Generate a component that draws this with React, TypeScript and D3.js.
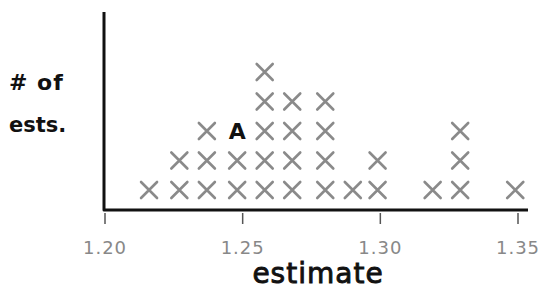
import { useEffect, useRef } from "react"
import * as d3 from "d3"

// estimates read off the hand-drawn axis, and how many Xs stack at each
const estimates = [1.216, 1.227, 1.237, 1.248, 1.258, 1.268, 1.28, 1.29, 1.299, 1.319, 1.329, 1.349]
const counts = [1, 2, 3, 2, 5, 4, 4, 1, 2, 1, 3, 1]
const tickValues = [1.2, 1.25, 1.3, 1.35]
const tickLabels = ["1.20", "1.25", "1.30", "1.35"]
// the labelled point "A"
const labelA = { estimate: 1.248, row: 3, text: "A" }

export default function App() {
  const svgRef = useRef<SVGSVGElement>(null)

  useEffect(() => {
    if (!svgRef.current) return
    const svg = d3.select(svgRef.current)
    svg.selectAll("*").remove()

    const width = 540
    const height = 290
    svg.attr("width", width).attr("height", height)

    const x = d3.scaleLinear().domain([1.2, 1.35]).range([105, 518])
    const y = d3.scaleLinear().domain([1, 5]).range([190, 72])

    const font = "'DejaVu Sans', sans-serif"

    // axes
    svg.append("path")
      .attr("d", `M104,12 L104,210 L528,210`)
      .attr("fill", "none")
      .attr("stroke", "#111")
      .attr("stroke-width", 3)
      .attr("stroke-linejoin", "round")

    // ticks
    const ticks = svg.append("g")
    ticks.selectAll("line")
      .data(tickValues)
      .enter()
      .append("line")
      .attr("x1", (d) => x(d))
      .attr("x2", (d) => x(d))
      .attr("y1", 213)
      .attr("y2", 224)
      .attr("stroke", "#555")
      .attr("stroke-width", 1.5)

    ticks.selectAll("text")
      .data(tickValues)
      .enter()
      .append("text")
      .attr("x", (d) => x(d))
      .attr("y", 254)
      .attr("text-anchor", "middle")
      .style("font-family", font)
      .style("font-size", "18px")
      .style("letter-spacing", "1px")
      .style("fill", "#888")
      .text((d, i) => tickLabels[i])

    // build the stacked points
    const points: { estimate: number; row: number }[] = []
    estimates.forEach((e, i) => {
      for (let r = 1; r <= counts[i]; r++) {
        if (e === labelA.estimate && r === labelA.row) continue
        points.push({ estimate: e, row: r })
      }
    })

    const s = 8
    const marks = svg.append("g")
      .attr("stroke", "#8a8a8a")
      .attr("stroke-width", 2.6)
      .attr("stroke-linecap", "round")
      .attr("fill", "none")

    marks.selectAll("path")
      .data(points)
      .enter()
      .append("path")
      .attr("d", (d) => {
        const cx = x(d.estimate)
        const cy = y(d.row)
        return `M${cx - s},${cy - s}L${cx + s},${cy + s}M${cx + s},${cy - s}L${cx - s},${cy + s}`
      })

    svg.append("text")
      .attr("x", x(labelA.estimate))
      .attr("y", y(labelA.row) + 8)
      .attr("text-anchor", "middle")
      .style("font-family", font)
      .style("font-size", "22px")
      .style("font-weight", "bold")
      .style("fill", "#111")
      .text(labelA.text)

    // y label
    svg.append("text")
      .attr("x", 9)
      .attr("y", 90)
      .style("font-family", font)
      .style("font-size", "22px")
      .style("font-weight", "bold")
      .style("letter-spacing", "1px")
      .style("fill", "#111")
      .text("# of")

    svg.append("text")
      .attr("x", 9)
      .attr("y", 132)
      .style("font-family", font)
      .style("font-size", "21px")
      .style("font-weight", "bold")
      .style("fill", "#111")
      .text("ests.")

    // x label
    svg.append("text")
      .attr("x", 318)
      .attr("y", 283)
      .attr("text-anchor", "middle")
      .style("font-family", font)
      .style("font-size", "28px")
      .style("letter-spacing", "1px")
      .style("fill", "#111")
      .style("stroke", "#111")
      .style("stroke-width", "0.9px")
      .text("estimate")
  }, [])

  return (
    <svg
      ref={svgRef}
      style={{ position: "absolute", left: 0, top: 0, display: "block", background: "#fff" }}
    ></svg>
  )
}
